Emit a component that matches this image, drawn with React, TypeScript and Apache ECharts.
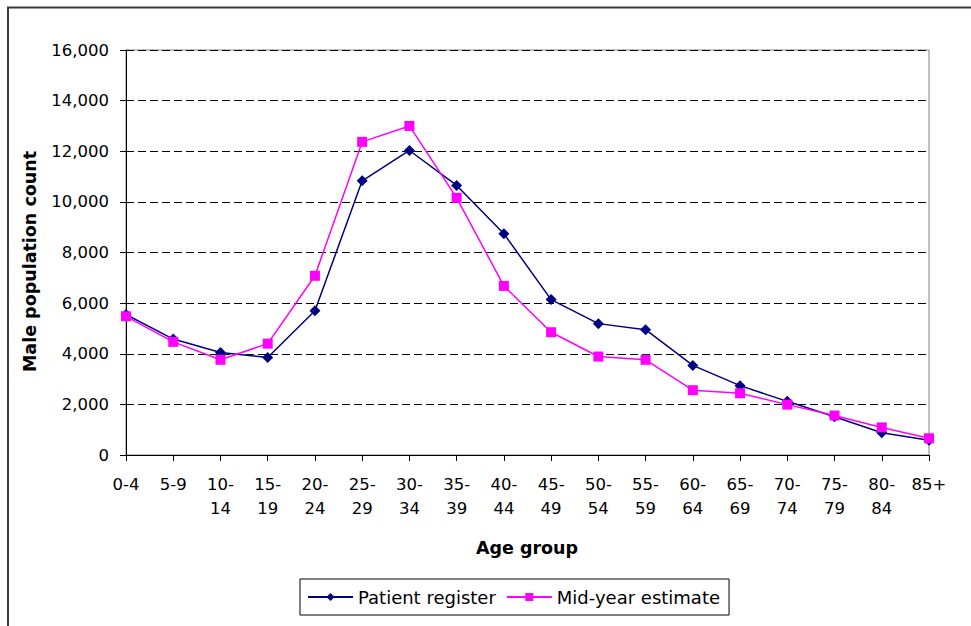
import React, { useEffect, useRef } from "react";
import * as echarts from "echarts";

const categories = ["0-4", "5-9", "10-14", "15-19", "20-24", "25-29", "30-34", "35-39", "40-44", "45-49", "50-54", "55-59", "60-64", "65-69", "70-74", "75-79", "80-84", "85+"];
const patientRegister = [5550, 4580, 4050, 3850, 5700, 10830, 12030, 10650, 8740, 6140, 5190, 4950, 3540, 2740, 2120, 1510, 880, 580];
const midYearEstimate = [5480, 4470, 3760, 4400, 7080, 12370, 13000, 10160, 6680, 4850, 3890, 3760, 2560, 2440, 1990, 1560, 1090, 660];
const seriesNames = ["Patient register", "Mid-year estimate"];
const xTitle = "Age group";
const yTitle = "Male population count";

const FONT = "DejaVu Sans";

export default function App() {
  const ref = useRef<HTMLDivElement>(null);
  useEffect(() => {
    if (!ref.current) return;
    const chart = echarts.init(ref.current, undefined, { renderer: "svg" });
    chart.setOption({
      animation: false,
      backgroundColor: "#ffffff",
      grid: {
        left: 126,
        right: 42,
        top: 50,
        bottom: 171,
        show: true,
        borderColor: "#808080",
        borderWidth: 1,
        backgroundColor: "transparent",
      },
      xAxis: {
        type: "category",
        data: categories,
        boundaryGap: false,
        axisLine: { show: true, lineStyle: { color: "#000", width: 1 } },
        axisTick: { show: true, inside: false, length: 6, lineStyle: { color: "#000" } },
        splitLine: { show: false },
        axisLabel: {
          interval: 0,
          margin: 17,
          color: "#000",
          fontFamily: FONT,
          fontSize: 16.5,
          lineHeight: 24.5,
          align: "center",
          formatter: (v: string) => (v.length > 3 ? v.replace("-", "-\n") : v),
        },
      },
      yAxis: {
        type: "value",
        min: 0,
        max: 16000,
        interval: 2000,
        axisLine: { show: true, lineStyle: { color: "#000", width: 1 } },
        axisTick: { show: true, inside: false, length: 6, lineStyle: { color: "#000" } },
        splitLine: { show: true, lineStyle: { color: "#000", type: [8, 4], width: 1 } },
        axisLabel: {
          margin: 17,
          color: "#000",
          fontFamily: FONT,
          fontSize: 16.5,
          formatter: (v: number) => v.toLocaleString("en-US"),
        },
      },
      legend: {
        left: 300,
        top: 579,
        orient: "horizontal",
        padding: [8, 9, 8, 7],
        itemGap: 10,
        itemWidth: 45,
        itemHeight: 10,
        borderColor: "#000",
        borderWidth: 1,
        backgroundColor: "#fff",
        textStyle: { fontFamily: FONT, fontSize: 18, color: "#000", lineHeight: 20 },
        data: seriesNames,
      },
      graphic: [
        {
          type: "polyline",
          shape: { points: [[8, 626], [8, 7.5], [971, 7.5]] },
          style: { stroke: "#3a3a3a", lineWidth: 2, fill: "none" },
          silent: true,
        },
        {
          type: "text",
          x: 29.5,
          y: 261.5,
          rotation: Math.PI / 2,
          style: {
            text: yTitle,
            fontFamily: FONT,
            fontSize: 17.5,
            fontWeight: "bold",
            fill: "#000",
            align: "center",
            verticalAlign: "middle",
          },
        },
        {
          type: "text",
          x: 527,
          y: 548,
          style: {
            text: xTitle,
            fontFamily: FONT,
            fontSize: 17.5,
            fontWeight: "bold",
            fill: "#000",
            align: "center",
            verticalAlign: "middle",
          },
        },
      ],
      series: [
        {
          name: seriesNames[0],
          type: "line",
          data: patientRegister,
          symbol: "diamond",
          symbolSize: 11,
          showAllSymbol: true,
          lineStyle: { color: "#000080", width: 1.5 },
          itemStyle: { color: "#000080" },
          z: 2,
        },
        {
          name: seriesNames[1],
          type: "line",
          data: midYearEstimate,
          symbol: "rect",
          symbolSize: 10,
          showAllSymbol: true,
          lineStyle: { color: "#ff00ff", width: 1.5 },
          itemStyle: { color: "#ff00ff" },
          z: 3,
        },
      ],
    });
    return () => chart.dispose();
  }, []);
  return (
    <div
      ref={ref}
      style={{ position: "absolute", left: 0, top: 0, width: 971, height: 626, background: "#fff" }}
    />
  );
}
